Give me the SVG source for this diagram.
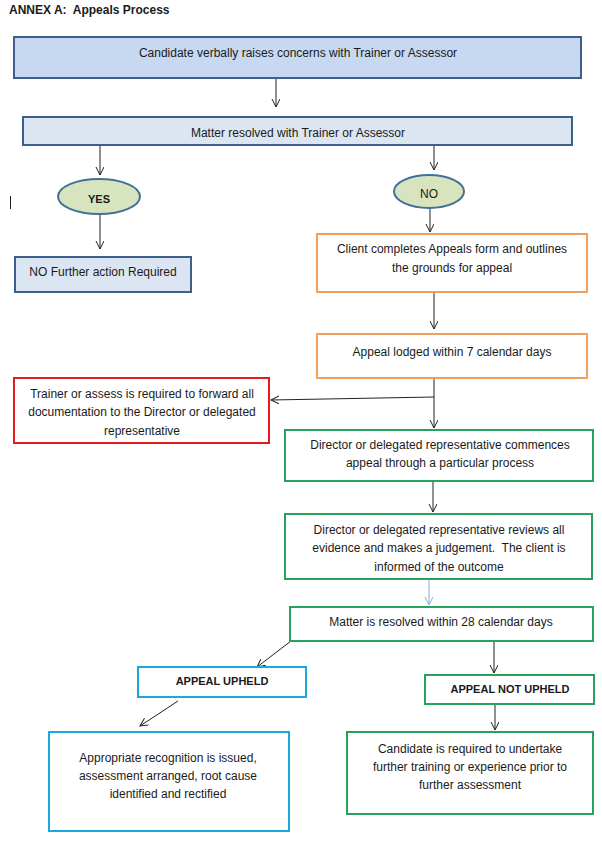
<svg xmlns="http://www.w3.org/2000/svg" width="602" height="847" viewBox="0 0 602 847">
<style>
text{font-family:"Liberation Sans",Arial,sans-serif;font-size:12px;fill:#1a1a1a;text-anchor:middle}
.title{font-size:12px;font-weight:bold;text-anchor:start}
.b{font-weight:bold;font-size:11px}
.blue1{fill:#c6d9f1;stroke:#3e5f8a;stroke-width:2}
.blue2{fill:#dce6f2;stroke:#3e5f8a;stroke-width:2}
.ell{fill:#d7e4bd;stroke:#41709c;stroke-width:2}
.or{fill:#fff;stroke:#f0a05c;stroke-width:2}
.red{fill:#fff;stroke:#e31b1b;stroke-width:2}
.gr{fill:#fff;stroke:#26a259;stroke-width:2}
.cy{fill:#fff;stroke:#1ba7e0;stroke-width:2}
.c{stroke:#222;stroke-width:1;fill:none;marker-end:url(#ah)}
.cb{stroke:#8faadc;stroke-width:1;fill:none;marker-end:url(#ahb)}
</style>
<defs>
<marker id="ah" markerUnits="userSpaceOnUse" markerWidth="10" markerHeight="10" refX="8" refY="4" orient="auto"><path d="M0,0 L8,4 L0,8" fill="none" stroke="#222" stroke-width="1"/></marker>
<marker id="ahb" markerUnits="userSpaceOnUse" markerWidth="10" markerHeight="10" refX="8" refY="4" orient="auto"><path d="M0,0 L8,4 L0,8" fill="none" stroke="#8faadc" stroke-width="1"/></marker>
</defs>
<rect width="602" height="847" fill="#fff"/>
<text class="title" x="9" y="14" xml:space="preserve">ANNEX A:  Appeals Process</text>
<line x1="10.5" y1="196" x2="10.5" y2="209" stroke="#222" stroke-width="1"/>
<g id="connectors">
<line class="c" x1="276" y1="78" x2="276" y2="107"/>
<line class="c" x1="100" y1="145" x2="100" y2="175"/>
<line class="c" x1="434" y1="145" x2="434" y2="170"/>
<line class="c" x1="100" y1="214" x2="100" y2="249"/>
<line class="c" x1="430" y1="208" x2="430" y2="232"/>
<line class="c" x1="434" y1="292" x2="434" y2="329"/>
<line class="c" x1="434" y1="378" x2="434" y2="428"/>
<line class="c" x1="434" y1="397" x2="271" y2="400"/>
<line class="c" x1="433" y1="481" x2="433" y2="512"/>
<line class="cb" x1="429" y1="579" x2="429" y2="605"/>
<line class="c" x1="291" y1="641" x2="257" y2="667"/>
<line class="c" x1="494" y1="641" x2="494" y2="673"/>
<line class="c" x1="178" y1="701" x2="140" y2="726"/>
<line class="c" x1="495" y1="704" x2="495" y2="730"/>
</g>
<g id="n-candidate"><rect class="blue1" x="14" y="37" width="567" height="41"/><text x="298" y="56.5">Candidate verbally raises concerns with Trainer or Assessor</text></g>
<g id="n-matter"><rect class="blue2" x="23" y="117" width="549" height="28"/><text x="298" y="136.5">Matter resolved with Trainer or Assessor</text></g>
<g id="n-yes"><ellipse class="ell" cx="99" cy="196.5" rx="41" ry="17.5"/><text class="b" x="99" y="203">YES</text></g>
<g id="n-no"><ellipse class="ell" cx="429" cy="191.5" rx="35" ry="16.5"/><text x="429" y="197.5">NO</text></g>
<g id="n-nofurther"><rect class="blue2" x="15" y="257" width="176" height="35"/><text x="103" y="275.5">NO Further action Required</text></g>
<g id="n-client"><rect class="or" x="317" y="234" width="270" height="58"/><text x="452" y="252.5">Client completes Appeals form and outlines</text><text x="452" y="271.5">the grounds for appeal</text></g>
<g id="n-lodged"><rect class="or" x="317" y="334" width="270" height="44"/><text x="452" y="355.5">Appeal lodged within 7 calendar days</text></g>
<g id="n-trainer"><rect class="red" x="14" y="378" width="255" height="65"/><text x="142" y="397.5">Trainer or assess is required to forward all</text><text x="142" y="415.5">documentation to the Director or delegated</text><text x="142" y="434.5">representative</text></g>
<g id="n-commences"><rect class="gr" x="285" y="430" width="308" height="51"/><text x="440" y="448.5">Director or delegated representative commences</text><text x="440" y="466.5">appeal through a particular process</text></g>
<g id="n-reviews"><rect class="gr" x="285" y="514" width="307" height="65"/><text x="439" y="533.5">Director or delegated representative reviews all</text><text x="439" y="551.5" xml:space="preserve">evidence and makes a judgement.  The client is</text><text x="439" y="570.5">informed of the outcome</text></g>
<g id="n-resolved28"><rect class="gr" x="290" y="607" width="303" height="34"/><text x="441" y="625.5">Matter is resolved within 28 calendar days</text></g>
<g id="n-upheld"><rect class="cy" x="138" y="667" width="168" height="30"/><text class="b" x="222" y="685">APPEAL UPHELD</text></g>
<g id="n-notupheld"><rect class="gr" x="425" y="675" width="169" height="29"/><text class="b" x="510" y="693">APPEAL NOT UPHELD</text></g>
<g id="n-recognition"><rect class="cy" x="49" y="732" width="240" height="99"/><text x="168" y="761.5">Appropriate recognition is issued,</text><text x="168" y="779.5">assessment arranged, root cause</text><text x="168" y="797.5">identified and rectified</text></g>
<g id="n-further"><rect class="gr" x="347" y="732" width="246" height="82"/><text x="470" y="752.5">Candidate is required to undertake</text><text x="470" y="770.5">further training or experience prior to</text><text x="470" y="788.5">further assessment</text></g>
</svg>
